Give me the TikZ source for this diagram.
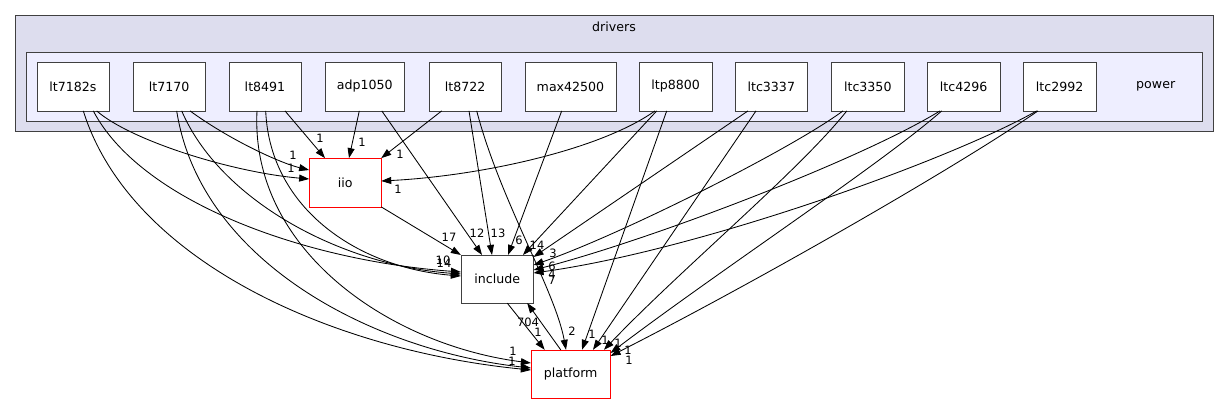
\documentclass[tikz,border=0pt]{standalone}
\usepackage{fontspec}
\setmainfont{DejaVu Sans}
\definecolor{dirfill}{HTML}{DDDDEE}
\definecolor{subfill}{HTML}{EEEEFF}
\definecolor{dirline}{HTML}{404040}
\definecolor{extred}{HTML}{FF0000}
\usepackage{tikz}
\usetikzlibrary{arrows.meta,calc}

\begin{document}
\begin{tikzpicture}[x=1pt,y=-1pt,
  dirbox/.style={draw=dirline,fill=white,minimum width=72.6pt,minimum height=48.4pt,inner sep=0pt,font=\fontsize{12.6}{15}\selectfont},
  extbox/.style={dirbox,draw=extred},
  dep/.style={-{Triangle[length=10pt,width=7pt]},black,line width=0.85pt},
  cnt/.style={font=\fontsize{11.5}{13}\selectfont,inner sep=0pt}]
  \useasboundingbox (0,0) rectangle (1229,404);
  % Clusters
  \draw[dirline,fill=dirfill,line width=1pt] (15.7,16) rectangle (1213.3,131.7);
  \node[font=\fontsize{12.6}{15}\selectfont] (drv) at (614,27) {drivers};
  \draw[dirline,fill=subfill,line width=1pt] (26.3,52.3) rectangle (1202.7,121);
  \node[font=\fontsize{12.6}{15}\selectfont] (pwr) at (1155.7,86.5) {power};
  % Power subdirectories
  \foreach \n/\x/\w in {lt7182s/73/72.6, lt7170/169.2/72.6, lt8491/265/72.6, adp1050/364.8/79,
      lt8722/465.2/72.6, max42500/570.5/91, ltp8800/675.7/72.6, ltc3337/771.3/72.6,
      ltc3350/867.8/72.6, ltc4296/963.7/72.6, ltc2992/1059.7/72.6}{
    \node[dirbox,minimum width=\w pt] (\n) at (\x,86.5) {\n};
  }
  % Shared directories
  \node[extbox,minimum width=71.7pt] (iio) at (345.2,182.5) {iio};
  \node[dirbox,minimum width=72.3pt,minimum height=47.7pt] (include) at (497.2,279) {include};
  \node[extbox,minimum width=79.3pt,minimum height=48pt] (platform) at (570.7,374) {platform};
  % lt7182s
  \draw[dep] ([xshift=23.7pt]lt7182s.south) .. controls (130,140) and (230,172) .. ([yshift=3.5pt]iio.west) node[cnt] (c1) at (291,168) {1};
  \draw[dep] ([xshift=20.3pt]lt7182s.south) .. controls (140,200) and (300,260) .. ([yshift=7pt]include.west) node[cnt] (c2) at (444,263) {14};
  \draw[dep] ([xshift=10.3pt]lt7182s.south) .. controls (130,260) and (330,350) .. ([yshift=4pt]platform.west);
  % lt7170
  \draw[dep] ([xshift=20.8pt]lt7170.south) .. controls (230,140) and (280,163) .. ([yshift=12.5pt]iio.west) node[cnt] (c4) at (293,155) {1};
  \draw[dep] ([xshift=12.5pt]lt7170.south) .. controls (220,200) and (340,265) .. ([yshift=5pt]include.west) node[cnt] (c5) at (443,260) {10};
  \draw[dep] ([xshift=7.5pt]lt7170.south) .. controls (200,260) and (370,350) .. ([yshift=6pt]platform.west) node[cnt] (c6) at (512,361) {1};
  % lt8491
  \draw[dep] ([xshift=20pt]lt8491.south) -- ([xshift=-20.2pt]iio.north) node[cnt] (c7) at (320,138) {1};
  \draw[dep] ([xshift=0.7pt]lt8491.south) .. controls (270,210) and (360,268) .. ([yshift=3pt]include.west);
  \draw[dep] ([xshift=-8pt]lt8491.south) .. controls (250,250) and (390,345) .. ([yshift=11pt]platform.west) node[cnt] (c9) at (513,351) {1};
  % adp1050
  \draw[dep] ([xshift=-5.5pt]adp1050.south) -- ([xshift=3.8pt]iio.north) node[cnt] (c10) at (362,142) {1};
  \draw[dep] ([xshift=17pt]adp1050.south) -- ([xshift=-15.2pt]include.north) node[cnt] (c11) at (477,233) {12};
  % lt8722
  \draw[dep] ([xshift=-23.5pt]lt8722.south) -- (iio.north east) node[cnt] (c12) at (400,154) {1};
  \draw[dep] ([xshift=3.8pt]lt8722.south) -- ([xshift=-5.2pt]include.north) node[cnt] (c13) at (498,233) {13};
  \draw[dep] ([xshift=11.5pt]lt8722.south) .. controls (500,200) and (555,290) .. ([xshift=-4.7pt]platform.north) node[cnt] (c14) at (572,331) {2};
  % max42500
  \draw[dep] ([xshift=-8.8pt]max42500.south) -- ([xshift=10.8pt]include.north) node[cnt] (c15) at (519,240) {6};
  % ltp8800
  \draw[dep] ([xshift=-20.7pt]ltp8800.south) .. controls (600,150) and (480,176) .. ([yshift=1.5pt]iio.east) node[cnt] (c16) at (398,189) {1};
  \draw[dep] ([xshift=-19pt]ltp8800.south) -- ([xshift=25.8pt]include.north) node[cnt] (c17) at (537,245) {14};
  \draw[dep] ([xshift=-9pt]ltp8800.south) -- ([xshift=11.3pt]platform.north) node[cnt] (c18) at (592,334) {1};
  % ltc3337
  \draw[dep] ([xshift=-23.3pt]ltc3337.south) -- ([yshift=22pt]include.east) node[cnt] (c19) at (553,253) {3};
  \draw[dep] ([xshift=-15.3pt]ltc3337.south) -- ([xshift=22.3pt]platform.north) node[cnt] (c20) at (605,340) {1};
  % ltc3350
  \draw[dep] ([xshift=-24.8pt]ltc3350.south) .. controls (790,150) and (620,235) .. ([yshift=14pt]include.east) node[cnt] (c21) at (552,266) {6};
  \draw[dep] ([xshift=-21pt]ltc3350.south) .. controls (800,170) and (680,270) .. ([xshift=33.3pt]platform.north) node[cnt] (c22) at (618,343) {1};
  % ltc4296
  \draw[dep] ([xshift=-23.7pt]ltc4296.south) .. controls (860,160) and (650,240) .. ([yshift=9pt]include.east) node[cnt] (c23) at (552,274) {4};
  \draw[dep] ([xshift=-22pt]ltc4296.south) .. controls (880,165) and (720,270) .. ([yshift=21pt]platform.east) node[cnt] (c24) at (628,350) {1};
  % ltc2992
  \draw[dep] ([xshift=-23pt]ltc2992.south) .. controls (950,160) and (700,250) .. ([yshift=6pt]include.east) node[cnt] (c25) at (552,280) {7};
  \draw[dep] ([xshift=-21.7pt]ltc2992.south) .. controls (960,165) and (760,280) .. ([yshift=18pt]platform.east) node[cnt] (c26) at (629,360) {1};
  % Between shared directories
  \draw[dep] (iio.south east) -- (include.north west) node[cnt] (c27) at (449,237) {17};
  \draw[dep] ([xshift=10pt]include.south) -- ([xshift=-26pt]platform.north) node[cnt] (c28) at (538,332) {1};
  \draw[dep] ([xshift=-10pt]platform.north) -- ([xshift=30pt]include.south) node[cnt] (c29) at (528,322) {704};
\end{tikzpicture}
\end{document}
